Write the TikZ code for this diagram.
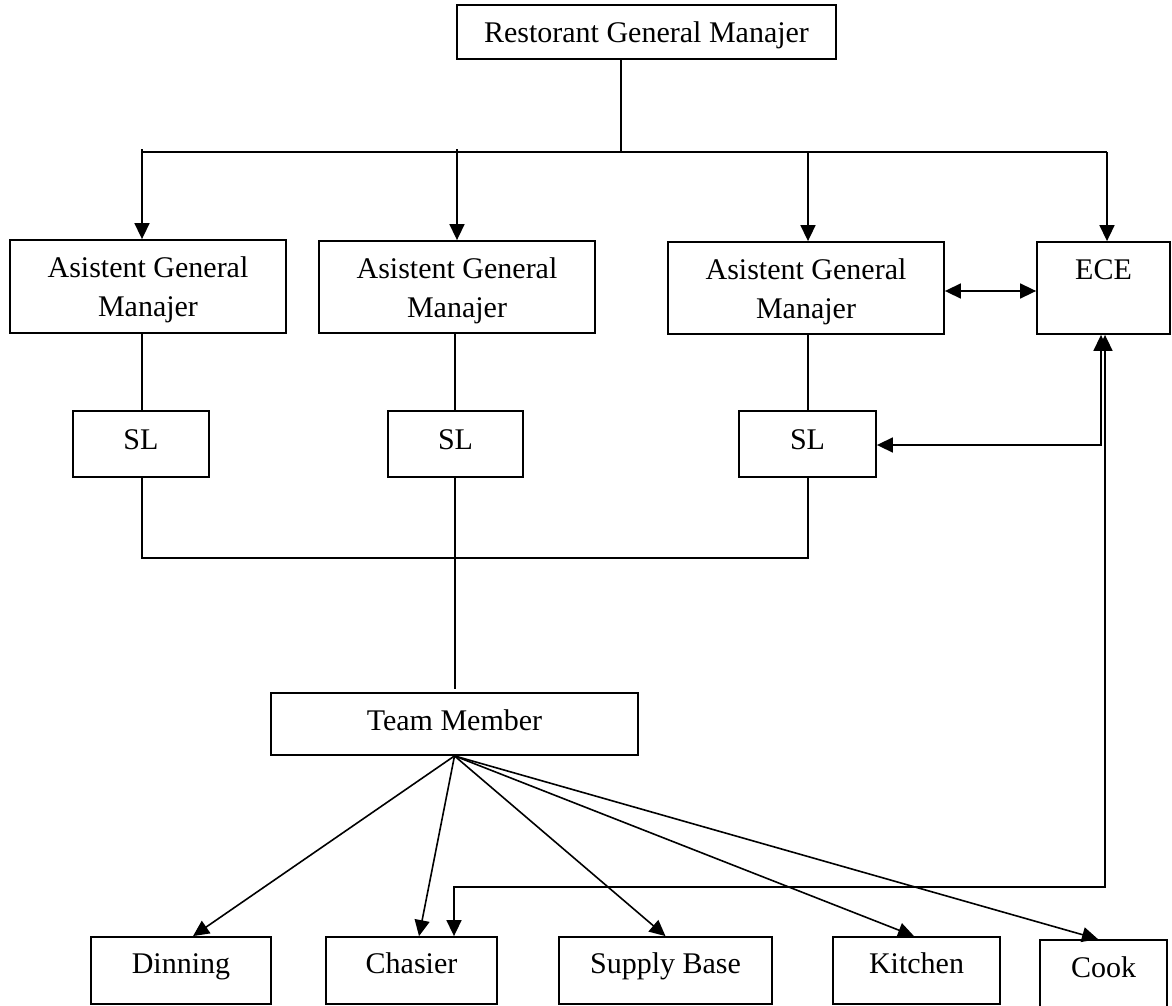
\documentclass[tikz,border=0pt]{standalone}
\usepackage{fontspec}
\setmainfont{Liberation Serif}
\usetikzlibrary{arrows.meta,calc}
\begin{document}
\begin{tikzpicture}[x=1pt,y=-1pt,
  box/.style={draw,line width=1.8pt,inner sep=0pt,align=center,
    font=\fontsize{30}{39}\selectfont},
  sbox/.style={box,text height=20pt,text depth=#1},
  conn/.style={line width=1.6pt},
  tip/.tip={Triangle[length=16pt,width=15pt]},
  arr/.style={conn,-tip},
  arrb/.style={conn,tip-tip}]
\useasboundingbox (0,0) rectangle (1172,1006);
\fill[white] (0,0) rectangle (1172,1006);
% nodes
\node[box,text height=24pt,text depth=2pt,minimum width=379pt,minimum height=54pt] (rgm) at (646.5,32) {Restorant General Manajer};
\node[box,minimum width=276pt,minimum height=93pt] (agm1) at (148,286.5) {\rule{0pt}{28pt}Asistent General\\Manajer};
\node[box,minimum width=276pt,minimum height=92pt] (agm2) at (457,287) {\rule{0pt}{28pt}Asistent General\\Manajer};
\node[box,minimum width=276pt,minimum height=92pt] (agm3) at (806,288) {\rule{0pt}{28pt}Asistent General\\Manajer};
\node[box,minimum width=133pt,minimum height=92pt] (ece) at (1103.5,288) {\rule{0pt}{28pt}ECE\\\rule[-6.5pt]{0pt}{6.5pt}};
\node[sbox=10pt,minimum width=136pt,minimum height=66pt] (sl1) at (141,444) {SL};
\node[sbox=10pt,minimum width=135pt,minimum height=66pt] (sl2) at (455.5,444) {SL};
\node[sbox=10pt,minimum width=137pt,minimum height=66pt] (sl3) at (807.5,444) {SL};
\node[sbox=8pt,minimum width=367pt,minimum height=62pt] (tm) at (454.5,724) {Team Member};
\node[sbox=15pt,minimum width=180pt,minimum height=67pt] (din) at (181,970.5) {Dinning};
\node[sbox=15pt,minimum width=171pt,minimum height=67pt] (cha) at (411.5,970.5) {Chasier};
\node[sbox=15pt,minimum width=213pt,minimum height=67pt] (sup) at (665.5,970.5) {Supply Base};
\node[sbox=15pt,minimum width=167pt,minimum height=67pt] (kit) at (916.5,970.5) {Kitchen};
\node[sbox=13pt,minimum width=127pt,minimum height=67pt] (cook) at (1103.5,973.5) {Cook};
% coordinates
\coordinate (bus) at (621,152);
\coordinate (busL) at (142,152);
\coordinate (busR) at (1107,152);
\coordinate (slbus) at (142,558);
\coordinate (slbusR) at (808,558);
\coordinate (tmend) at (455,689);
\coordinate (fbA) at (1101,445);
\coordinate (fbB) at (1105,887);
\coordinate (fbC) at (454,887);
% top tree
\draw[conn] (rgm.south -| bus) -- (bus);
\draw[conn] (busL) -- (busR);
\draw[arr] (142,149) -- (agm1.north -| busL);
\draw[arr] (457,149) -- (agm2.north);
\draw[arr] (808,152) -- (agm3.north -| 808,0);
\draw[arr] (busR) -- (ece.north -| busR);
\draw[arrb] (agm3.east |- 0,291) -- (ece.west |- 0,291);
% AGM to SL
\draw[conn] (agm1.south -| 142,0) -- (sl1.north -| 142,0);
\draw[conn] (agm2.south -| 455,0) -- (sl2.north -| 455,0);
\draw[conn] (agm3.south -| 808,0) -- (sl3.north -| 808,0);
% SL bus
\draw[conn] (sl1.south -| slbus) -- (slbus) -- (slbusR) -- (sl3.south -| slbusR);
\draw[conn] (sl2.south -| tmend) -- (tmend);
% feedback to ECE
\draw[arrb] (sl3.east |- fbA) -- (fbA) -- (ece.south -| fbA);
\draw[arrb] (cha.north -| fbC) -- (fbC) -- (fbB) -- (ece.south -| fbB);
% team member to departments
\draw[arr] (tm.south) -- ($(din.north)+(12,0)$);
\draw[arr] (tm.south) -- ($(cha.north)+(7.5,0)$);
\draw[arr] (tm.south) -- (sup.north);
\draw[arr] (tm.south) -- ($(kit.north)+(-2.5,0)$);
\draw[arr] (tm.south) -- ($(cook.north)+(-5.5,0)$);
\end{tikzpicture}
\end{document}
